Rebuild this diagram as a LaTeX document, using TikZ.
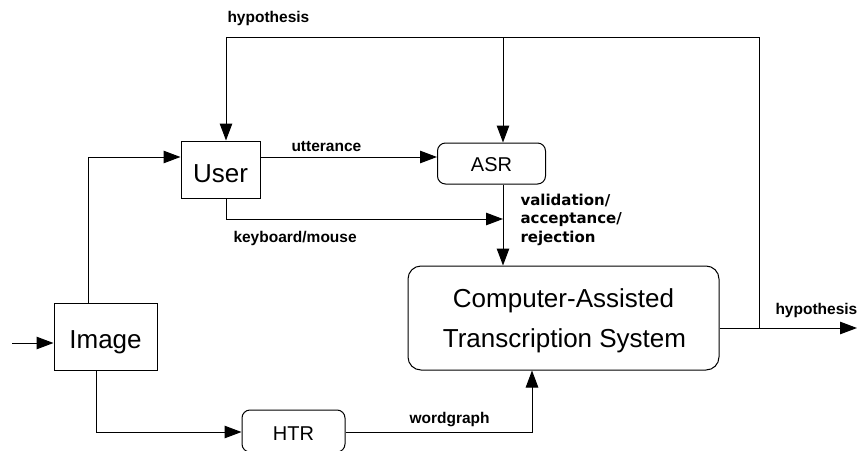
\documentclass[tikz,border=0pt]{standalone}
\usepackage{fontspec}
\setmainfont{Liberation Sans}
\newfontfamily\valfont{DejaVu Sans}
\usetikzlibrary{arrows.meta}

\begin{document}
\begin{tikzpicture}[x=1pt, y=-1pt, line width=1pt,
  arr/.style={-{Triangle[length=17pt,width=12.5pt]}},
  box/.style={draw, inner sep=0pt, text depth=0pt, font=\fontsize{26}{30}\selectfont},
  rbox/.style={box, rounded corners=8pt, font=\fontsize{20}{24}\selectfont},
  big/.style={inner sep=0pt, anchor=base, font=\fontsize{26}{30}\selectfont},
  lab/.style={inner sep=0pt, anchor=base west, font=\bfseries\fontsize{15.5}{18}\selectfont},
  vlab/.style={inner sep=0pt, anchor=base west, font=\valfont\bfseries\fontsize{15}{18}\selectfont}]
\useasboundingbox (0,0) rectangle (857,450);

% blocks
\node[box, minimum width=79pt, minimum height=57pt, text height=25pt] (user) at (220.5,169.5) {User};
\node[box, minimum width=103pt, minimum height=67pt, text height=23pt] (image) at (105.5,336.5) {Image};
\node[rbox, minimum width=108pt, minimum height=41pt, text height=15.6pt] (asr) at (491.5,163.5) {ASR};
\node[rbox, minimum width=103pt, minimum height=42pt, text height=18pt] (htr) at (293.5,431) {HTR};
\node[box, rounded corners=13pt, minimum width=311pt, minimum height=104pt] (cats) at (563.5,318) {};
\node[big] (cats1) at (563.5,307) {Computer-Assisted};
\node[big] (cats2) at (564.5,347) {Transcription System};

% routing points
\coordinate (in) at (12,343);
\coordinate (iu) at (88,157);
\coordinate (tl) at (226,37);
\coordinate (ta) at (503,37);
\coordinate (tr) at (759,37);
\coordinate (hy) at (857,328);
\coordinate (kb) at (226,219);
\coordinate (ih) at (96,432);
\coordinate (hc) at (532,432);

% connectors
\draw[arr] (in) -- (image.west |- in);
\draw[arr] (image.north -| iu) -- (iu) -- (user.west |- iu);
\draw[arr] (user.east |- iu) -- (asr.west |- iu);
\draw[arr] (cats.east |- hy) -- (hy);
\draw[arr] (tr |- hy) -- (tr) -- (tl) -- (user.north -| tl);
\draw[arr] (ta) -- (asr.north -| ta);
\draw[arr] (user.south -| kb) -- (kb) -- (ta |- kb);
\draw[arr] (asr.south -| ta) -- (cats.north -| ta);
\draw[arr] (image.south -| ih) -- (ih) -- (htr.west |- ih);
\draw[arr] (htr.east |- hc) -- (hc) -- (cats.south -| hc);

% labels
\node[lab] (lhyp1) at (227,22.3) {hypothesis};
\node[lab] (lutt) at (291,151.7) {utterance};
\node[lab] (lkey) at (233,242.3) {keyboard/mouse};
\node[lab] (lwg) at (409,423.3) {wordgraph};
\node[lab] (lhyp2) at (775,314.3) {hypothesis};
\node[vlab] (lv1) at (520,205) {validation/};
\node[vlab] (lv2) at (520,223.5) {acceptance/};
\node[vlab] (lv3) at (520,242) {rejection};
\end{tikzpicture}
\end{document}
